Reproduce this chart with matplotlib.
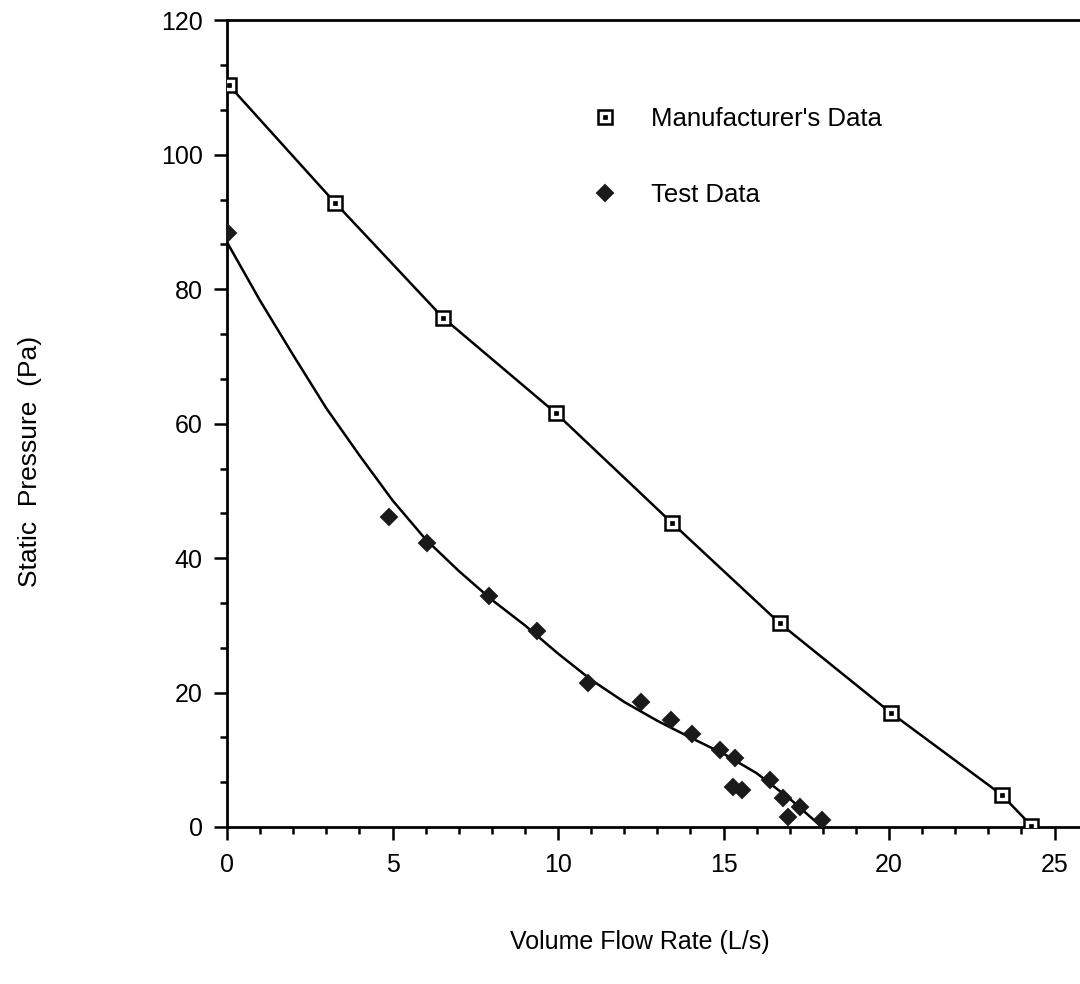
import matplotlib
matplotlib.use("Agg")
import matplotlib.pyplot as plt
from matplotlib.ticker import MultipleLocator, FixedLocator

plt.rcParams['font.family'] = ['Liberation Sans', 'DejaVu Sans']

# Manufacturer's data (open squares, connected)
mfr_flow = [0.05, 3.26, 6.52, 9.93, 13.43, 16.7, 20.05, 23.4, 24.3]
mfr_pressure = [110.4, 92.9, 75.8, 61.6, 45.3, 30.3, 17.0, 4.8, 0.2]

# Test data (filled diamonds)
test_flow = [0.03, 4.9, 6.03, 7.9, 9.36, 10.9, 12.5, 13.4, 14.04, 14.9, 15.35,
             15.3, 15.55, 16.4, 16.8, 17.3, 16.95, 17.97]
test_pressure = [88.4, 46.1, 42.2, 34.3, 29.1, 21.4, 18.6, 15.9, 13.9, 11.5, 10.2,
                 6.0, 5.5, 7.0, 4.3, 3.0, 1.5, 1.0]

# Fitted curve through test data
fit_flow = [0.0, 1.0, 2.0, 3.0, 4.0, 5.0, 6.0, 7.0, 8.0, 9.0, 10.0, 11.0, 12.0,
            13.0, 14.0, 15.0, 16.0, 17.0, 17.9]
fit_pressure = [87.0, 78.3, 70.2, 62.3, 55.3, 48.6, 42.8, 38.1, 33.8, 30.0, 25.8,
                21.9, 18.6, 15.8, 13.3, 10.9, 8.0, 4.2, 0.3]

x_major = [0, 5, 10, 15, 20, 25]
y_major = [0, 20, 40, 60, 80, 100, 120]

fig = plt.figure(figsize=(10.8, 9.84), dpi=100)
ax = fig.add_axes([0.2102, 0.1596, 0.7898, 0.8196])

ax.plot(mfr_flow, mfr_pressure, color='black', lw=1.8, zorder=2)
ax.plot(fit_flow, fit_pressure, color='black', lw=1.8, zorder=2)

sq = ax.plot(mfr_flow, mfr_pressure, ls='none', marker='s', ms=9.5, mfc='white',
             mec='black', mew=1.8, zorder=3)[0]
dot = ax.plot(mfr_flow, mfr_pressure, ls='none', marker='s', ms=2.2, mfc='black',
              mec='black', mew=0.5, zorder=4)[0]
dia = ax.plot(test_flow, test_pressure, ls='none', marker='D', ms=8.5, mfc='#1a1a1a',
              mec='#1a1a1a', mew=1.4, zorder=3)[0]

ax.set_xlim(0, 25.77)
ax.set_ylim(0, 120)

ax.xaxis.set_major_locator(FixedLocator(x_major))
ax.xaxis.set_minor_locator(MultipleLocator(1))
ax.yaxis.set_major_locator(FixedLocator(y_major))
ax.yaxis.set_minor_locator(MultipleLocator(20 / 3))

ax.spines['right'].set_visible(False)
for s in ['left', 'bottom', 'top']:
    ax.spines[s].set_linewidth(2.0)

ax.tick_params(axis='both', which='major', direction='out', length=9.5, width=1.8,
               labelsize=18)
ax.tick_params(axis='both', which='minor', direction='out', length=4.8, width=1.8)
ax.tick_params(axis='x', which='major', pad=9)
ax.tick_params(axis='y', which='major', pad=8)
ax.tick_params(top=False, right=False, which='both')

leg = ax.legend([(sq, dot), dia], ["Manufacturer's Data", "Test Data"],
                loc='upper left', bbox_to_anchor=(0.401, 0.921), frameon=False,
                fontsize=18.5, labelspacing=2.0, handletextpad=1.29, handlelength=1.0,
                numpoints=1)

fig.text(0.592, 0.043, "Volume Flow Rate (L/s)", ha='center', va='center', fontsize=18)
fig.text(0.028, 0.531, "Static  Pressure  (Pa)", ha='center', va='center', fontsize=19,
         rotation=90)

fig.savefig("out.png", dpi=100, facecolor='white')
